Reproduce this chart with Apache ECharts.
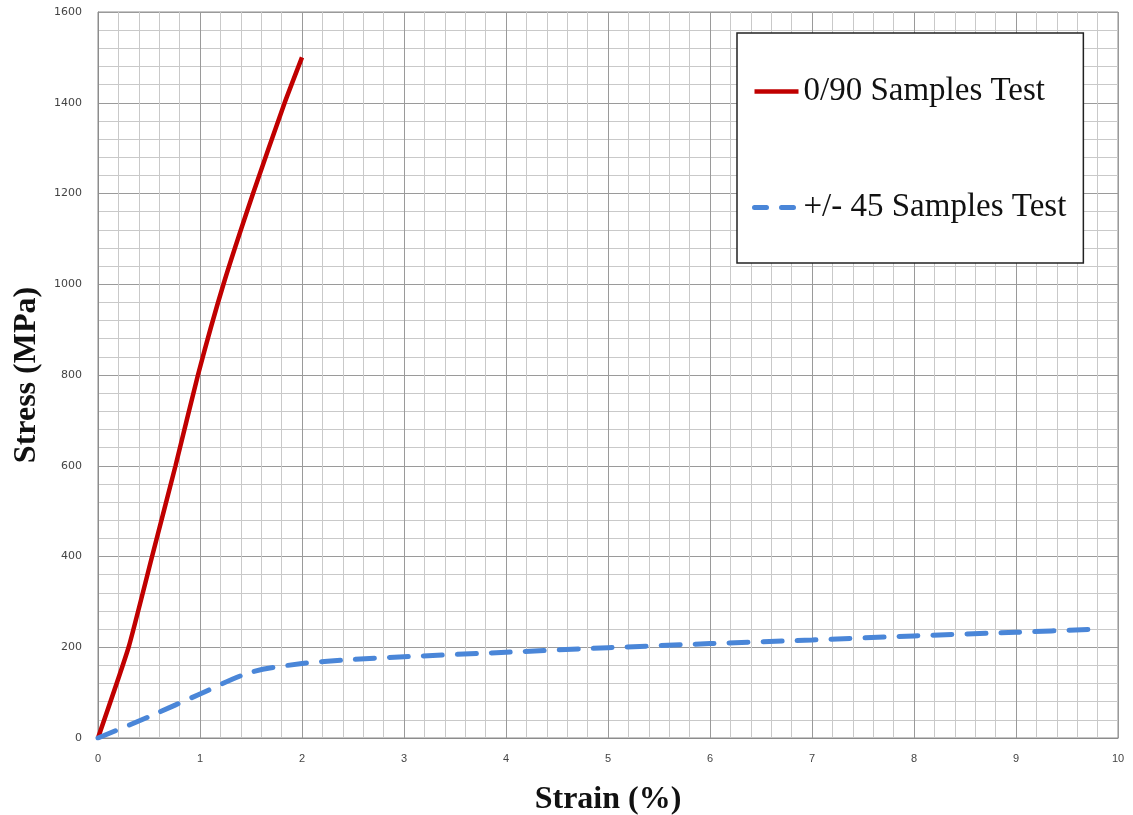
<!DOCTYPE html>
<html>
<head>
<meta charset="utf-8">
<script src="https://cdn.jsdelivr.net/npm/echarts@6/dist/echarts.min.js"></script>
<style>
  html, body { margin: 0; padding: 0; background: #fff; }
  #chart { width: 1133px; height: 815px; }
</style>
</head>
<body>
<div id="chart"></div>
<script>
// strain (%) / stress (MPa)
const strain090 = [0, 0.3, 0.53, 0.76, 0.98, 1.23, 1.52, 1.83, 2.0]
const stress090 = [0, 200, 400, 600, 800, 1000, 1200, 1400, 1500]
const strain45 = [0, 0.5, 1, 1.5, 2, 2.5, 3, 4, 5, 6, 7, 8, 9, 9.8]
const stress45 = [0, 47, 97, 145, 164, 173, 179, 189, 199, 208, 216, 225, 233, 240]
const seriesNames = ['0/90 Samples Test', '+/- 45 Samples Test']

const pairs = (xs, ys) => xs.map((x, i) => [x, ys[i]])

const chart = echarts.init(document.getElementById('chart'))
chart.setOption({
  animation: false,
  backgroundColor: '#fff',
  grid: {
    left: 98,
    right: 15,
    top: 12,
    bottom: 77,
    containLabel: false,
    outerBoundsMode: 'none',
    show: true,
    borderColor: '#8c8c8c',
    borderWidth: 1
  },
  legend: {
    left: 737,
    top: 33,
    orient: 'vertical',
    backgroundColor: '#fff',
    borderColor: '#222',
    borderWidth: 1.5,
    padding: [42, 17, 39, 15],
    itemGap: 83,
    itemWidth: 44,
    itemHeight: 14,
    itemStyle: { opacity: 0 },
    textStyle: {
      fontFamily: 'Liberation Serif',
      fontSize: 33,
      color: '#111'
    },
    data: [
      { name: seriesNames[0], lineStyle: { width: 4.5 } },
      { name: seriesNames[1], lineStyle: { width: 5, type: [12, 15], cap: 'round' } }
    ]
  },
  xAxis: {
    type: 'value',
    min: 0,
    max: 10,
    interval: 1,
    name: 'Strain (%)',
    nameLocation: 'middle',
    nameGap: 46,
    nameTextStyle: {
      fontFamily: 'Liberation Serif',
      fontWeight: 'bold',
      fontSize: 32,
      color: '#111'
    },
    axisLine: { show: true, lineStyle: { color: '#8c8c8c' } },
    axisTick: { show: false },
    axisLabel: { fontFamily: 'Liberation Sans Narrow, Liberation Sans', fontSize: 11, color: '#444', margin: 15, formatter: v => String(v) },
    splitLine: { show: true, lineStyle: { color: '#9a9a9a', width: 1 } },
    minorTick: { show: false, splitNumber: 5 },
    minorSplitLine: { show: true, lineStyle: { color: '#c9c9c9', width: 1 } }
  },
  yAxis: {
    type: 'value',
    min: 0,
    max: 1600,
    interval: 200,
    name: 'Stress (MPa)',
    nameLocation: 'middle',
    nameGap: 55,
    nameTextStyle: {
      fontFamily: 'Liberation Serif',
      fontWeight: 'bold',
      fontSize: 32,
      color: '#111'
    },
    axisLine: { show: true, lineStyle: { color: '#8c8c8c' } },
    axisTick: { show: false },
    axisLabel: { fontFamily: 'DejaVu Sans', fontSize: 11, color: '#444', margin: 16, formatter: v => String(v) },
    splitLine: { show: true, lineStyle: { color: '#9a9a9a', width: 1 } },
    minorTick: { show: false, splitNumber: 5 },
    minorSplitLine: { show: true, lineStyle: { color: '#c9c9c9', width: 1 } }
  },
  series: [
    {
      name: seriesNames[0],
      type: 'line',
      data: pairs(strain090, stress090),
      smooth: 0.15,
      showSymbol: false,
      symbol: 'none',
      lineStyle: { color: '#c00000', width: 4.5 },
      itemStyle: { color: '#c00000' }
    },
    {
      name: seriesNames[1],
      type: 'line',
      data: pairs(strain45, stress45),
      smooth: 0.3,
      showSymbol: false,
      symbol: 'none',
      lineStyle: { color: '#4a86d8', width: 5, type: [19, 15], cap: 'round' },
      itemStyle: { color: '#4a86d8' }
    }
  ]
})
</script>
</body>
</html>
